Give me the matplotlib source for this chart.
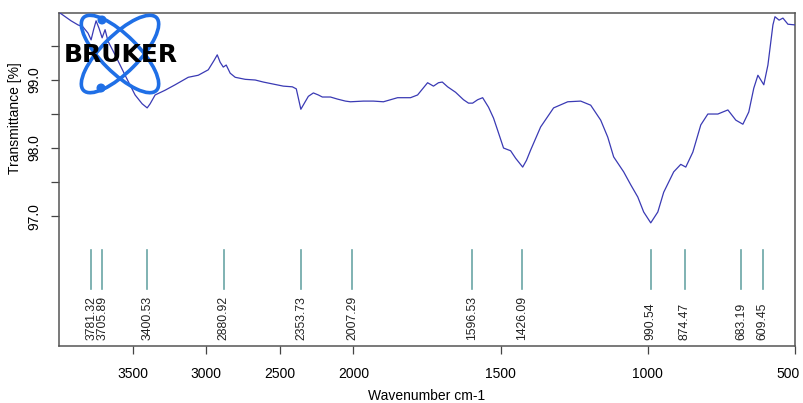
import numpy as np
import matplotlib
matplotlib.use("Agg")
import matplotlib.pyplot as plt
from matplotlib.patches import Ellipse, Circle
from matplotlib.transforms import ScaledTranslation

plt.rcParams["font.family"] = ["Liberation Sans", "DejaVu Sans"]

#### spectrum ####
wavenumber = [3996, 3990, 3918, 3871, 3837, 3803, 3782, 3765, 3748, 3728, 3707, 3687,
              3667, 3619, 3551, 3483, 3435, 3401, 3381, 3347, 3279, 3211, 3122, 3054,
              2986, 2946, 2925, 2905, 2884, 2864, 2837, 2803, 2735, 2667, 2612, 2544,
              2476, 2415, 2388, 2357, 2333, 2306, 2272, 2238, 2211, 2156, 2109, 2054,
              2020, 1966, 1932, 1898, 1874, 1850, 1806, 1782, 1765, 1748, 1728, 1711,
              1698, 1680, 1653, 1626, 1609, 1595, 1578, 1561, 1541, 1524, 1510, 1490,
              1466, 1449, 1425, 1412, 1398, 1364, 1320, 1272, 1228, 1194, 1160, 1136,
              1116, 1082, 1058, 1034, 1014, 990, 966, 946, 912, 888, 871, 847, 820,
              796, 762, 728, 701, 677, 657, 640, 626, 606, 592, 575, 568, 554, 541,
              524, 500]
transmittance = [99.99, 99.98, 99.87, 99.81, 99.78, 99.69, 99.59, 99.74, 99.87, 99.76, 99.62, 99.74,
                 99.57, 99.37, 99.07, 98.78, 98.65, 98.59, 98.65, 98.78, 98.85, 98.93, 99.04, 99.07,
                 99.15, 99.29, 99.37, 99.26, 99.19, 99.22, 99.10, 99.04, 99.01, 99.00, 98.97, 98.94,
                 98.91, 98.90, 98.87, 98.57, 98.66, 98.76, 98.81, 98.78, 98.75, 98.75, 98.72, 98.69,
                 98.68, 98.69, 98.69, 98.68, 98.71, 98.74, 98.74, 98.78, 98.87, 98.96, 98.91, 98.96,
                 98.97, 98.90, 98.82, 98.71, 98.66, 98.66, 98.71, 98.74, 98.60, 98.44, 98.26, 98.00,
                 97.96, 97.85, 97.72, 97.82, 97.97, 98.31, 98.59, 98.68, 98.69, 98.63, 98.41, 98.16,
                 97.87, 97.65, 97.46, 97.28, 97.06, 96.90, 97.06, 97.35, 97.65, 97.76, 97.72, 97.94, 98.34,
                 98.50, 98.50, 98.56, 98.41, 98.35, 98.53, 98.88, 99.07, 98.93, 99.22, 99.81, 99.93, 99.88, 99.91,
                 99.82, 99.81]

peaks = [3781.32, 3705.89, 3400.53, 2880.92, 2353.73, 2007.29,
         1596.53, 1426.09, 990.54, 874.47, 683.19, 609.45]

xticks = [3500, 3000, 2500, 2000, 1500, 1000, 500]
yticks = [97.0, 97.5, 98.0, 98.5, 99.0, 99.5]
ytick_labels = ["97.0", "", "98.0", "", "99.0", ""]


# OPUS style axis: scale doubles below 2000 cm-1
def fwd(w):
    w = np.asarray(w, dtype=float)
    return np.where(w >= 2000, w, 2 * w - 2000)


def inv(v):
    v = np.asarray(v, dtype=float)
    return np.where(v >= 2000, v, (v + 2000) / 2)


fig = plt.figure(figsize=(8.04, 4.03), dpi=100)
ax = fig.add_axes([59 / 804, 1 - 346 / 403, 736 / 804, 333 / 403])

ax.set_xscale("function", functions=(fwd, inv))
ax.set_xlim(4000, 500)
ax.set_ylim(95.09, 99.985)

ax.plot(wavenumber, transmittance, color="#3a3ab4", lw=0.9, zorder=3)

# peak picks
for p in peaks:
    ax.plot([p, p], [96.5, 95.93], color="#6aa6a6", lw=1.2)
    ax.text(p, 95.18, "%.2f" % p, rotation=90, ha="center", va="bottom",
            fontsize=8.8, color="#222222")

ax.set_xticks(xticks)
ax.set_xticklabels([str(t) for t in xticks])
ax.set_yticks(yticks)
ax.set_yticklabels(ytick_labels, rotation=90, va="center")
ax.minorticks_off()
ax.tick_params(axis="x", length=6, width=0.9, pad=9, labelsize=10, color="#444444")
ax.tick_params(axis="y", length=6, width=0.9, pad=7, labelsize=10, color="#444444")

# last x label sits at the figure edge, nudge it inside
last = ax.get_xticklabels()[-1]
last.set_transform(last.get_transform() + ScaledTranslation(-7 / 100, 0, fig.dpi_scale_trans))

for s in ax.spines.values():
    s.set_color("#555555")
    s.set_linewidth(1.1)

ax.set_xlabel("Wavenumber cm-1", fontsize=10)
ax.xaxis.set_label_coords(0.5, -0.13)
ax.set_ylabel("Transmittance [%]", fontsize=10)
ax.yaxis.set_label_coords(-0.05, 0.685)

# Bruker logo drawn in figure pixel space
lg = fig.add_axes([0, 0, 1, 1])
lg.set_xlim(0, 804)
lg.set_ylim(403, 0)
lg.axis("off")
logo_blue = "#1f6fe6"
lg.add_patch(Ellipse((120, 54), 103, 37, angle=45, fill=False, ec=logo_blue, lw=2.6))
lg.add_patch(Ellipse((120, 54), 103, 37, angle=-45, fill=False, ec=logo_blue, lw=2.6))
lg.add_patch(Circle((102, 20), 3.8, color=logo_blue))
lg.add_patch(Circle((101, 88), 3.8, color=logo_blue))
lg.text(121, 55, "BRUKER", ha="center", va="center", fontsize=18,
        fontweight="bold", family="DejaVu Sans", color="black")

plt.savefig("out.png", dpi=100)
